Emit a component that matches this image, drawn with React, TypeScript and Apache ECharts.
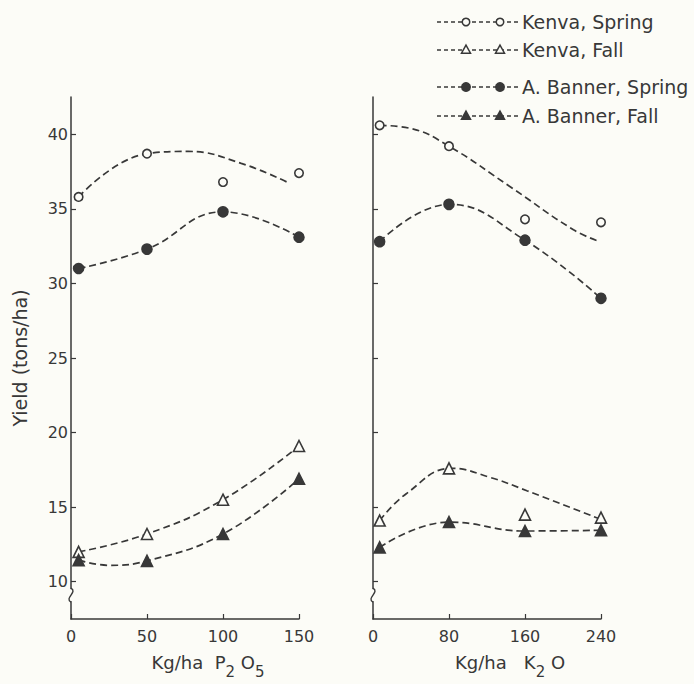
import React, { useEffect, useRef } from "react";
import * as echarts from "echarts";

// ---- data ----
const p2o5Ticks = [0, 50, 100, 150];
const k2oTicks = [0, 80, 160, 240];
const yTicks = [10, 15, 20, 25, 30, 35, 40];

const seriesNames = ["Kenva, Spring", "Kenva, Fall", "A. Banner, Spring", "A. Banner, Fall"];

// measured points, P2O5 panel
const p2o5X = [5, 50, 100, 150];
const p2o5KenvaSpring = [35.8, 38.7, 36.8, 37.4];
const p2o5KenvaFall = [12.0, 13.2, 15.5, 19.1];
const p2o5BannerSpring = [31.0, 32.3, 34.8, 33.1];
const p2o5BannerFall = [11.45, 11.4, 13.2, 16.9];

// measured points, K2O panel
const k2oX = [7, 80, 160, 240];
const k2oKenvaSpring = [40.6, 39.2, 34.3, 34.1];
const k2oKenvaFall = [14.1, 17.6, 14.5, 14.3];
const k2oBannerSpring = [32.8, 35.3, 32.9, 29.0];
const k2oBannerFall = [12.3, 14.0, 13.4, 13.45];

// fitted (dashed) curves: [x, y]
const p2o5KenvaSpringCurve = [[5, 35.8], [50, 38.7], [77, 38.85], [112, 38.05], [144, 36.7]];
const p2o5KenvaFallCurve = [[5, 12.0], [50, 13.2], [100, 15.5], [150, 19.1]];
const p2o5BannerSpringCurve = [[5, 31.0], [50, 32.3], [100, 34.8], [150, 33.1]];
const p2o5BannerFallCurve = [[5, 11.45], [25, 11.1], [50, 11.4], [100, 13.2], [150, 16.9]];
const k2oKenvaSpringCurve = [[7, 40.6], [39, 40.4], [80, 39.2], [144, 36.5], [211, 33.6], [239, 32.8]];
const k2oKenvaFallCurve = [[7, 14.1], [35, 15.9], [83, 17.6], [123, 17.0], [162, 16.1], [239, 14.2]];
const k2oBannerSpringCurve = [[7, 32.8], [80, 35.3], [160, 32.9], [240, 29.0]];
const k2oBannerFallCurve = [[7, 12.3], [80, 14.0], [160, 13.4], [240, 13.45]];

const INK = "#383838";
const BG = "#fcfcf7";
const FONT = "'DejaVu Sans', sans-serif";

const markerStyles = [
  { symbol: "circle", size: 8.5, legend: 7.5, filled: false },
  { symbol: "triangle", size: 11, legend: 9, filled: false },
  { symbol: "circle", size: 10, legend: 8.5, filled: true },
  { symbol: "triangle", size: 11, legend: 9, filled: true },
];

export default function App() {
  const ref = useRef<HTMLDivElement>(null);

  useEffect(() => {
    if (!ref.current) return;
    const chart = echarts.init(ref.current, undefined, { renderer: "svg" });

    const panels = [
      { xs: p2o5X, vals: [p2o5KenvaSpring, p2o5KenvaFall, p2o5BannerSpring, p2o5BannerFall], curves: [p2o5KenvaSpringCurve, p2o5KenvaFallCurve, p2o5BannerSpringCurve, p2o5BannerFallCurve] },
      { xs: k2oX, vals: [k2oKenvaSpring, k2oKenvaFall, k2oBannerSpring, k2oBannerFall], curves: [k2oKenvaSpringCurve, k2oKenvaFallCurve, k2oBannerSpringCurve, k2oBannerFallCurve] },
    ];

    const series: any[] = [];
    panels.forEach((p, pi) => {
      p.curves.forEach((c, si) => {
        series.push({
          type: "line",
          name: seriesNames[si] + " (fit)",
          xAxisIndex: pi,
          yAxisIndex: pi,
          data: c,
          smooth: 0.45,
          symbol: "none",
          silent: true,
          lineStyle: { color: INK, width: 1.7, type: [7, 4] },
          z: 2,
        });
      });
      p.vals.forEach((v, si) => {
        const m = markerStyles[si];
        series.push({
          type: "scatter",
          name: seriesNames[si],
          xAxisIndex: pi,
          yAxisIndex: pi,
          data: p.xs.map((x, i) => [x, v[i]]),
          symbol: m.symbol,
          symbolSize: m.size,
          itemStyle: { color: m.filled ? INK : BG, borderColor: INK, borderWidth: 1.6, opacity: 1 },
          z: 3,
        });
      });
    });

    const nameRich = {
      a: { fontSize: 18, fontFamily: FONT, color: INK, lineHeight: 20, verticalAlign: "top" },
      s: { fontSize: 15, fontFamily: FONT, color: INK, lineHeight: 26, verticalAlign: "bottom" },
    };

    const xAxisCommon = {
      type: "value",
      axisLine: { show: true, lineStyle: { color: INK, width: 1.5 } },
      axisTick: { show: true, inside: true, length: 5, lineStyle: { color: INK, width: 1.2 } },
      axisLabel: { color: INK, fontSize: 16, fontFamily: FONT, margin: 9 },
      splitLine: { show: false },
      nameLocation: "middle",
      nameGap: 34,
      nameTextStyle: { color: INK, fontSize: 18, fontFamily: FONT, padding: [0, 0, 0, 46], rich: nameRich },
    };
    const yAxisCommon = {
      type: "value",
      min: 7.5,
      max: 42.5,
      axisLine: { show: true, onZero: false, lineStyle: { color: INK, width: 1.5 } },
      axisTick: { show: true, inside: true, length: 5, customValues: yTicks, lineStyle: { color: INK, width: 1.2 } },
      splitLine: { show: false },
    };

    chart.setOption({
      animation: false,
      backgroundColor: BG,
      grid: [
        { left: 71, top: 97, width: 228, height: 526 },
        { left: 373, top: 97, width: 228, height: 526 },
      ],
      xAxis: [
        { ...xAxisCommon, gridIndex: 0, min: p2o5Ticks[0], max: p2o5Ticks[p2o5Ticks.length - 1], interval: p2o5Ticks[1] - p2o5Ticks[0], name: "{a|Kg/ha  P}{s|2}{a| O}{s|5}" },
        { ...xAxisCommon, gridIndex: 1, min: k2oTicks[0], max: k2oTicks[k2oTicks.length - 1], interval: k2oTicks[1] - k2oTicks[0], name: "{a|Kg/ha   K}{s|2}{a| O}" },
      ],
      yAxis: [
        {
          ...yAxisCommon,
          gridIndex: 0,
          axisLabel: { color: INK, fontSize: 16, fontFamily: FONT, margin: 3, customValues: yTicks },
          name: "{y|Yield (tons/ha)}",
          nameLocation: "middle",
          nameGap: 42,
          nameTextStyle: { color: INK, fontSize: 19, fontFamily: FONT, rich: { y: { fontSize: 19, fontFamily: FONT, color: INK } } },
        },
        { ...yAxisCommon, gridIndex: 1, axisLabel: { show: false } },
      ],
      series,
    });

    // axis-break marks and custom legend
    const graphics: any[] = [];
    [0, 1].forEach((gi) => {
      const pt = chart.convertToPixel({ gridIndex: gi } as any, [0, 9.1]) as number[];
      const x = pt[0], y = pt[1];
      graphics.push({ type: "rect", shape: { x: x - 3, y: y - 6, width: 6, height: 12 }, style: { fill: BG }, z: 10 });
      graphics.push({
        type: "bezierCurve",
        shape: { x1: x, y1: y - 7, cpx1: x + 7, cpy1: y - 3, cpx2: x - 7, cpy2: y + 3, x2: x, y2: y + 7 },
        style: { stroke: INK, lineWidth: 1.4, fill: null },
        z: 11,
      });
    });

    const rowY = [22, 50, 87, 116];
    seriesNames.forEach((name, i) => {
      const y = rowY[i];
      const m = markerStyles[i];
      graphics.push({ type: "line", shape: { x1: 437, y1: y, x2: 518, y2: y }, style: { stroke: INK, lineWidth: 1.5, lineDash: [4, 3] }, z: 10 });
      [466, 500].forEach((mx) => {
        if (m.symbol === "circle") {
          graphics.push({ type: "circle", shape: { cx: mx, cy: y, r: m.legend / 2 }, style: { fill: m.filled ? INK : BG, stroke: INK, lineWidth: 1.5 }, z: 11 });
        } else {
          const s = m.legend;
          graphics.push({
            type: "polygon",
            shape: { points: [[mx, y - s * 0.55], [mx + s / 2, y + s * 0.35], [mx - s / 2, y + s * 0.35]] },
            style: { fill: m.filled ? INK : BG, stroke: INK, lineWidth: 1.5 },
            z: 11,
          });
        }
      });
      graphics.push({
        type: "text",
        style: { x: 522, y, text: name, fill: INK, font: `19px ${FONT}`, verticalAlign: "middle", align: "left" },
        z: 11,
      });
    });

    chart.setOption({ graphic: graphics });

    return () => chart.dispose();
  }, []);

  return <div ref={ref} style={{ position: "absolute", left: 0, top: 0, width: 694, height: 684 }} />;
}
